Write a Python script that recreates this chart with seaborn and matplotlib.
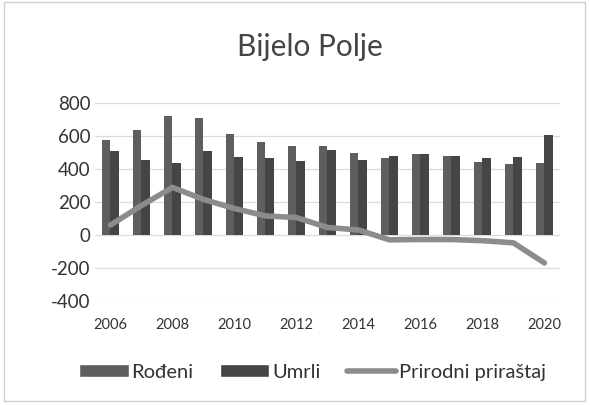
import numpy as np
import pandas as pd
import matplotlib
matplotlib.use("Agg")
import matplotlib.pyplot as plt
import seaborn as sns
from matplotlib.patches import Rectangle, Patch
from matplotlib.lines import Line2D

# podaci procijenjeni sa slike
godine = [str(g) for g in range(2006, 2021)]
rodjeni = [576, 636, 721, 709, 612, 564, 539, 539, 498, 463, 490, 480, 441, 429, 437]
umrli = [509, 455, 436, 509, 473, 467, 448, 515, 455, 480, 492, 478, 463, 470, 605]
prirastaj = [60, 178, 288, 215, 160, 115, 105, 45, 30, -30, -28, -28, -35, -48, -170]
oznake_x = [g if int(g) % 2 == 0 else "" for g in godine]

sns.set_theme(style="white")
plt.rcParams["font.family"] = ["Lato", "DejaVu Sans"]

df = pd.DataFrame({
    "godina": godine * 2,
    "vrijednost": rodjeni + umrli,
    "serija": ["Rođeni"] * len(godine) + ["Umrli"] * len(godine),
})

fig = plt.figure(figsize=(5.9, 4.05), dpi=100)
ax = fig.add_axes([0.161, 0.257, 0.788, 0.489])

boje = {"Rođeni": "#5e5e5e", "Umrli": "#454545"}
sns.barplot(data=df, x="godina", y="vrijednost", hue="serija", palette=boje,
            width=0.56, gap=0, saturation=1, linewidth=0, legend=False,
            ax=ax, zorder=3)
sns.lineplot(x=godine, y=prirastaj, color="#8c8c8c", linewidth=4,
             ax=ax, zorder=4, sort=False)

ax.set_xlim(-0.5, len(godine) - 0.5)
ax.set_ylim(-400, 800)
ax.set_yticks(range(-400, 801, 200))
ax.set_yticklabels([str(v) for v in range(-400, 801, 200)], fontsize=13.5, color="#333333")
ax.set_xticks(range(len(godine)))
ax.set_xticklabels(oznake_x, fontsize=10.5, color="#333333")
ax.tick_params(axis="both", length=0)
ax.tick_params(axis="x", pad=12)
ax.tick_params(axis="y", pad=3)
ax.grid(axis="y", color="#dcdcdc", linewidth=0.9, zorder=0)
for s in ax.spines.values():
    s.set_visible(False)
ax.set_xlabel("")
ax.set_ylabel("")

fig.text(0.525, 0.885, "Bijelo Polje", ha="center", va="center",
         fontsize=21.5, color="#444444")

rukice = [
    Patch(facecolor=boje["Rođeni"]),
    Patch(facecolor=boje["Umrli"]),
    Line2D([0], [0], color="#8c8c8c", linewidth=4),
]
fig.legend(rukice, ["Rođeni", "Umrli", "Prirodni priraštaj"], loc="center",
           bbox_to_anchor=(0.53, 0.081), ncol=3, frameon=False, fontsize=14.5,
           handlelength=2.45, handleheight=0.6, handletextpad=0.15, columnspacing=1.3,
           labelcolor="#333333")

fig.patches.append(Rectangle((0.006, 0.01), 0.985, 0.985, transform=fig.transFigure,
                             fill=False, edgecolor="#d0d0d0", linewidth=1))

fig.savefig("out.png", dpi=100)
